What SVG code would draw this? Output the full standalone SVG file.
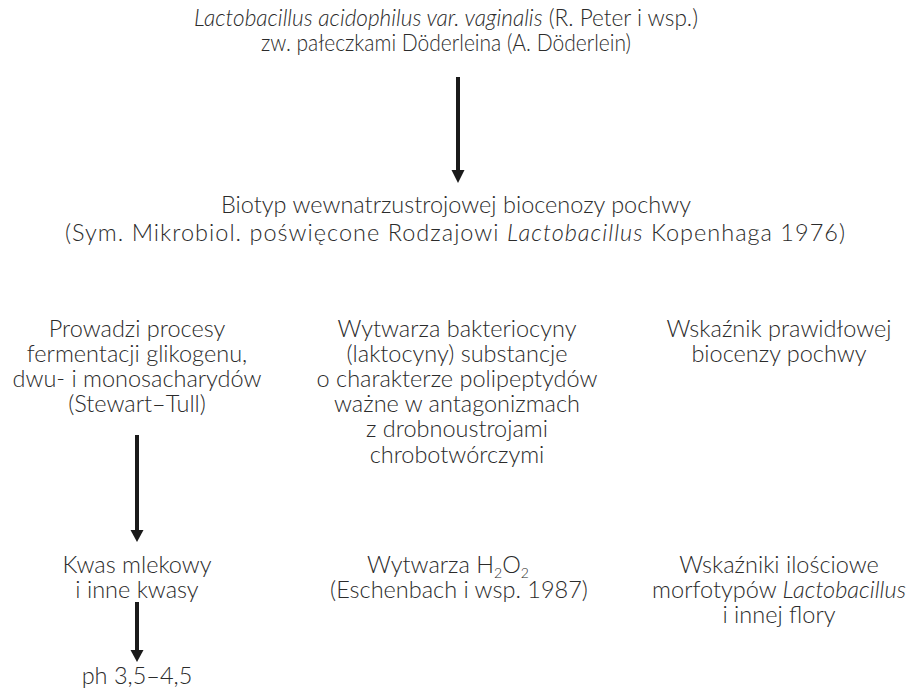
<svg xmlns="http://www.w3.org/2000/svg" width="912" height="690" viewBox="0 0 912 690">
<style>
text{font-family:Lato,"Open Sans","Liberation Sans",sans-serif;font-size:23.5px;fill:#2b2b2b;text-anchor:middle;font-weight:300}
.i{font-style:italic}
.sub{font-size:14px;baseline-shift:-5px}
.conn line{stroke:#1a1a1a;stroke-width:4}
.conn polygon{fill:#1a1a1a}
</style>
<rect width="912" height="690" fill="#fff"/>
<g id="n1">
<text x="446" y="26" textLength="504" lengthAdjust="spacingAndGlyphs"><tspan class="i">Lactobacillus acidophilus var. vaginalis</tspan> (R. Peter i wsp.)</text>
<text x="446" y="51" textLength="370" lengthAdjust="spacingAndGlyphs">zw. pałeczkami Döderleina (A. Döderlein)</text>
</g>
<g id="n2">
<text x="456" y="213">Biotyp wewnatrzustrojowej biocenozy pochwy</text>
<text x="455" y="241" textLength="780" lengthAdjust="spacing">(Sym. Mikrobiol. poświęcone Rodzajowi <tspan class="i">Lactobacillus</tspan> Kopenhaga 1976)</text>
</g>
<g id="n3">
<text x="137" y="337">Prowadzi procesy</text>
<text x="137" y="362">fermentacji glikogenu,</text>
<text x="137" y="387">dwu- i monosacharydów</text>
<text x="137" y="412">(Stewart–Tull)</text>
</g>
<g id="n4">
<text x="457" y="337">Wytwarza bakteriocyny</text>
<text x="457" y="362">(laktocyny) substancje</text>
<text x="457" y="387">o charakterze polipeptydów</text>
<text x="457" y="412">ważne w antagonizmach</text>
<text x="457" y="437">z drobnoustrojami</text>
<text x="457" y="463">chrobotwórczymi</text>
</g>
<g id="n5">
<text x="779" y="337">Wskaźnik prawidłowej</text>
<text x="779" y="362">biocenzy pochwy</text>
</g>
<g id="n6">
<text x="137" y="573">Kwas mlekowy</text>
<text x="137" y="598">i inne kwasy</text>
</g>
<g id="n7">
<text x="448" y="573">Wytwarza H<tspan class="sub">2</tspan>O<tspan class="sub">2</tspan></text>
<text x="459" y="598">(Eschenbach i wsp. 1987)</text>
</g>
<g id="n8">
<text x="779" y="573">Wskaźniki ilościowe</text>
<text x="779" y="598">morfotypów <tspan class="i">Lactobacillus</tspan></text>
<text x="779" y="623">i innej flory</text>
</g>
<g id="n9">
<text x="137" y="684">ph 3,5–4,5</text>
</g>
<g class="conn" id="connectors">
<line x1="458" y1="77" x2="458" y2="172"/>
<polygon points="451.5,170 464.5,170 458,183"/>
<line x1="137" y1="435" x2="137" y2="532"/>
<polygon points="130.5,530 143.5,530 137,542"/>
<line x1="137" y1="602" x2="137" y2="652"/>
<polygon points="130.5,650 143.5,650 137,662"/>
</g>
</svg>
